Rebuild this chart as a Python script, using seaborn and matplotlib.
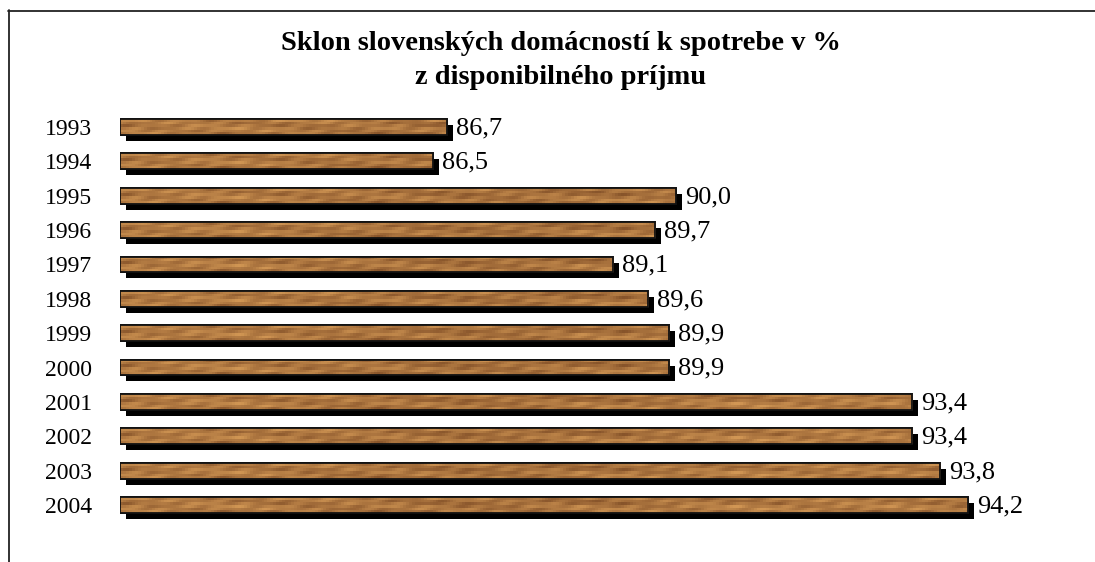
import numpy as np
import pandas as pd
import matplotlib
matplotlib.use("Agg")
import matplotlib.pyplot as plt
import matplotlib.transforms as mtransforms
from matplotlib.patches import Rectangle
from matplotlib.lines import Line2D
import seaborn as sns

years = ["1993", "1994", "1995", "1996", "1997", "1998",
         "1999", "2000", "2001", "2002", "2003", "2004"]
values = [86.7, 86.5, 90.0, 89.7, 89.1, 89.6, 89.9, 89.9, 93.4, 93.4, 93.8, 94.2]
labels = ["86,7", "86,5", "90,0", "89,7", "89,1", "89,6",
          "89,9", "89,9", "93,4", "93,4", "93,8", "94,2"]
title_lines = ["Sklon slovenských domácností k spotrebe v %",
               "z disponibilného príjmu"]
BASE = 82.0
XMAX = 96.0

sns.set_theme(style="white")
plt.rcParams["font.family"] = ["Liberation Serif", "DejaVu Serif"]
plt.rcParams["text.color"] = "black"

W, H = 1095, 562
fig = plt.figure(figsize=(W / 100, H / 100), dpi=100)
ax_left, ax_right = 120, 1093
ax_top, ax_bot = 109.8, 522.2
ax = fig.add_axes([ax_left / W, 1 - ax_bot / H,
                   (ax_right - ax_left) / W, (ax_bot - ax_top) / H])

df = pd.DataFrame({"year": years, "value": values})
sns.barplot(data=df, y="year", x="value", orient="h", ax=ax,
            color="#a8703e", width=0.46, edgecolor="#111111", linewidth=1.3,
            zorder=3)
ax.set_xlim(BASE, XMAX)
ax.set_ylim(len(years) - 0.5, -0.5)

# start bars at the axis baseline
bars = list(ax.patches)
for p in bars:
    w = p.get_width()
    p.set_x(BASE)
    p.set_width(w - BASE)

# wood texture (deterministic pattern, decoration only)
yy, xx = np.mgrid[0:6, 0:330].astype(float)
g = (0.58
     + 0.16 * np.sin(xx * 0.37 + yy * 2.1)
     + 0.14 * np.sin(xx * 0.113 - yy * 1.3 + 1.0)
     + 0.10 * np.sin(xx * 0.71 + yy * 0.7 + 2.0)
     + 0.08 * np.sin(xx * 0.029 + yy * 0.4))
g[1:3] -= 0.12  # darker streak in the upper part
g[-1] -= 0.05
g = np.clip(g, 0, 1)
dark = np.array([0.52, 0.32, 0.16])
light = np.array([0.82, 0.59, 0.33])
tex = dark[None, None, :] * (1 - g[..., None]) + light[None, None, :] * g[..., None]

shift = mtransforms.ScaledTranslation(6 / 100, -6 / 100, fig.dpi_scale_trans)
for p in bars:
    x0, y0 = p.get_x(), p.get_y()
    w, h = p.get_width(), p.get_height()
    sh = Rectangle((x0, y0), w, h, facecolor="black", edgecolor="none",
                   transform=ax.transData + shift, zorder=2)
    ax.add_patch(sh)
    im = ax.imshow(tex, extent=(BASE, XMAX, y0 + h, y0), aspect="auto",
                   zorder=3.5, interpolation="nearest")
    im.set_clip_path(p)
    edge = Rectangle((x0, y0), w, h, facecolor="none", edgecolor="#111111",
                     linewidth=1.3, zorder=4)
    ax.add_patch(edge)

ax.set_xlim(BASE, XMAX)
ax.set_ylim(len(years) - 0.5, -0.5)
ax.set_aspect("auto")

for p, lab in zip(bars, labels):
    xe = p.get_x() + p.get_width()
    yc = p.get_y() + p.get_height() / 2
    ax.annotate(lab, xy=(xe, yc), xytext=(6.5, -1), textcoords="offset points",
                ha="left", va="center", fontsize=19, color="black", zorder=5)

ax.set_xlabel("")
ax.set_ylabel("")
ax.set_xticks([])
ax.tick_params(axis="y", length=0, pad=20, labelsize=17, colors="black")
for s in ax.spines.values():
    s.set_visible(False)
ax.grid(False)

fig.text(561 / W, 1 - 44 / H, title_lines[0], ha="center", va="center",
         fontsize=20.5, fontweight="bold", color="black")
fig.text(561 / W, 1 - 77 / H, title_lines[1], ha="center", va="center",
         fontsize=20.5, fontweight="bold", color="black")

# outer frame
fig.add_artist(Line2D([8.5 / W, 8.5 / W], [1 - 10 / H, 0], color="#222222",
                      linewidth=1.3, transform=fig.transFigure))
fig.add_artist(Line2D([8 / W, 1.0], [1 - 10.5 / H, 1 - 10.5 / H], color="#222222",
                      linewidth=1.3, transform=fig.transFigure))
fig.text(2 / W, 1 + 5 / H, "Graf 6.5", ha="left", va="center", fontsize=11,
         fontweight="bold", color="black")

fig.savefig("out.png", dpi=100)
